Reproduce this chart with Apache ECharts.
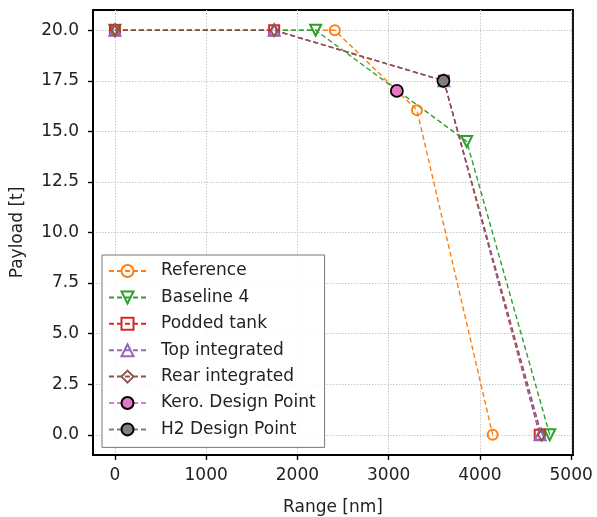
<!DOCTYPE html>
<html>
<head>
<meta charset="utf-8">
<script src="https://cdn.jsdelivr.net/npm/echarts@6/dist/echarts.min.js"></script>
<style>html,body{margin:0;padding:0;background:#fff}#c{width:597px;height:517px}</style>
</head>
<body>
<div id="c"></div>
<script>
const xTicks = [0, 1000, 2000, 3000, 4000, 5000];
const yTicks = [0, 2.5, 5, 7.5, 10, 12.5, 15, 17.5, 20];

const referenceRange = [0, 2410, 3310, 4140];
const referencePayload = [20, 20, 16.05, 0];
const baselineRange = [0, 2200, 3855, 4765];
const baselinePayload = [20, 20, 14.5, 0];
const poddedRange = [0, 1745, 3605, 4655];
const poddedPayload = [20, 20, 17.5, 0];
const topRange = [0, 1745, 3605, 4660];
const topPayload = [20, 20, 17.5, 0];
const rearRange = [0, 1745, 3605, 4675];
const rearPayload = [20, 20, 17.5, 0];
const keroRange = [3090];
const keroPayload = [17.0];
const h2Range = [3600];
const h2Payload = [17.5];

const FONT = 'DejaVu Sans';
const pairs = (xs, ys) => xs.map((x, i) => [x, ys[i]]);
const dash = [5, 3];

function lineSeries(name, xs, ys, color, symbol, size, extra) {
  return Object.assign({
    name: name,
    type: 'line',
    data: pairs(xs, ys),
    symbol: symbol,
    symbolSize: size,
    lineStyle: { color: color, width: 1.4, type: dash },
    itemStyle: { color: 'rgba(255,255,255,0)', borderColor: color, borderWidth: 2 },
    emphasis: { disabled: true },
    animation: false
  }, extra || {});
}

const series = [
  lineSeries('Reference', referenceRange, referencePayload, '#ff7f0e', 'circle', 10),
  lineSeries('Baseline 4', baselineRange, baselinePayload, '#2ca02c', 'triangle', 11, { symbolRotate: 180 }),
  lineSeries('Podded tank', poddedRange, poddedPayload, '#d62728', 'rect', 10),
  lineSeries('Top integrated', topRange, topPayload, '#9467bd', 'triangle', 11),
  lineSeries('Rear integrated', rearRange, rearPayload, '#8c564b', 'diamond', [7, 12]),
  lineSeries('Kero. Design Point', keroRange, keroPayload, '#e377c2', 'circle', 12,
    { itemStyle: { color: '#e377c2', borderColor: '#000', borderWidth: 1.8 } }),
  lineSeries('H2 Design Point', h2Range, h2Payload, '#7f7f7f', 'circle', 12,
    { itemStyle: { color: '#7f7f7f', borderColor: '#000', borderWidth: 1.8 } })
];

const chart = echarts.init(document.getElementById('c'), null, { renderer: 'canvas' });
chart.setOption({
  animation: false,
  backgroundColor: '#fff',
  grid: { left: 93, right: 24, top: 10, bottom: 62, show: true, borderColor: '#000', borderWidth: 1.8, backgroundColor: 'transparent', containLabel: false, outerBoundsMode: 'none' },
  xAxis: {
    type: 'value', min: -240, max: 5020,
    name: 'Range [nm]', nameLocation: 'middle', nameGap: 44,
    nameTextStyle: { fontFamily: FONT, fontSize: 17, color: '#222' },
    axisLine: { show: true, onZero: false, lineStyle: { color: '#000', width: 1.8 } },
    axisTick: { show: true, inside: false, length: 5, customValues: xTicks, lineStyle: { color: '#000', width: 1.4 } },
    axisLabel: { customValues: xTicks, margin: 12, fontFamily: FONT, fontSize: 17, color: '#222', formatter: v => String(v) },
    splitLine: { show: true, lineStyle: { color: '#c8c8c8', width: 1, type: [1.5, 1.5] } }
  },
  yAxis: {
    type: 'value', min: -1, max: 21,
    name: 'Payload [t]', nameLocation: 'middle', nameGap: 67, nameRotate: 90,
    nameTextStyle: { fontFamily: FONT, fontSize: 17, color: '#222' },
    axisLine: { show: true, onZero: false, lineStyle: { color: '#000', width: 1.8 } },
    axisTick: { show: true, inside: false, length: 5, customValues: yTicks, lineStyle: { color: '#000', width: 1.4 } },
    axisLabel: { customValues: yTicks, margin: 14, fontFamily: FONT, fontSize: 17, color: '#222', formatter: v => v.toFixed(1) },
    splitLine: { show: true, lineStyle: { color: '#c8c8c8', width: 1, type: [1.5, 1.5] } }
  },
  legend: {
    orient: 'vertical', left: 102, top: 255,
    padding: [6, 9, 8, 6],
    itemWidth: 37, itemHeight: 15, itemGap: 6.4,
    backgroundColor: 'rgba(255,255,255,0.85)',
    borderColor: '#777', borderWidth: 1, borderRadius: 0,
    textStyle: { fontFamily: FONT, fontSize: 17, color: '#222', lineHeight: 20, padding: [0, 0, 0, 10] },
    data: series.map(s => s.name)
  },
  series: series
});
</script>
</body>
</html>
